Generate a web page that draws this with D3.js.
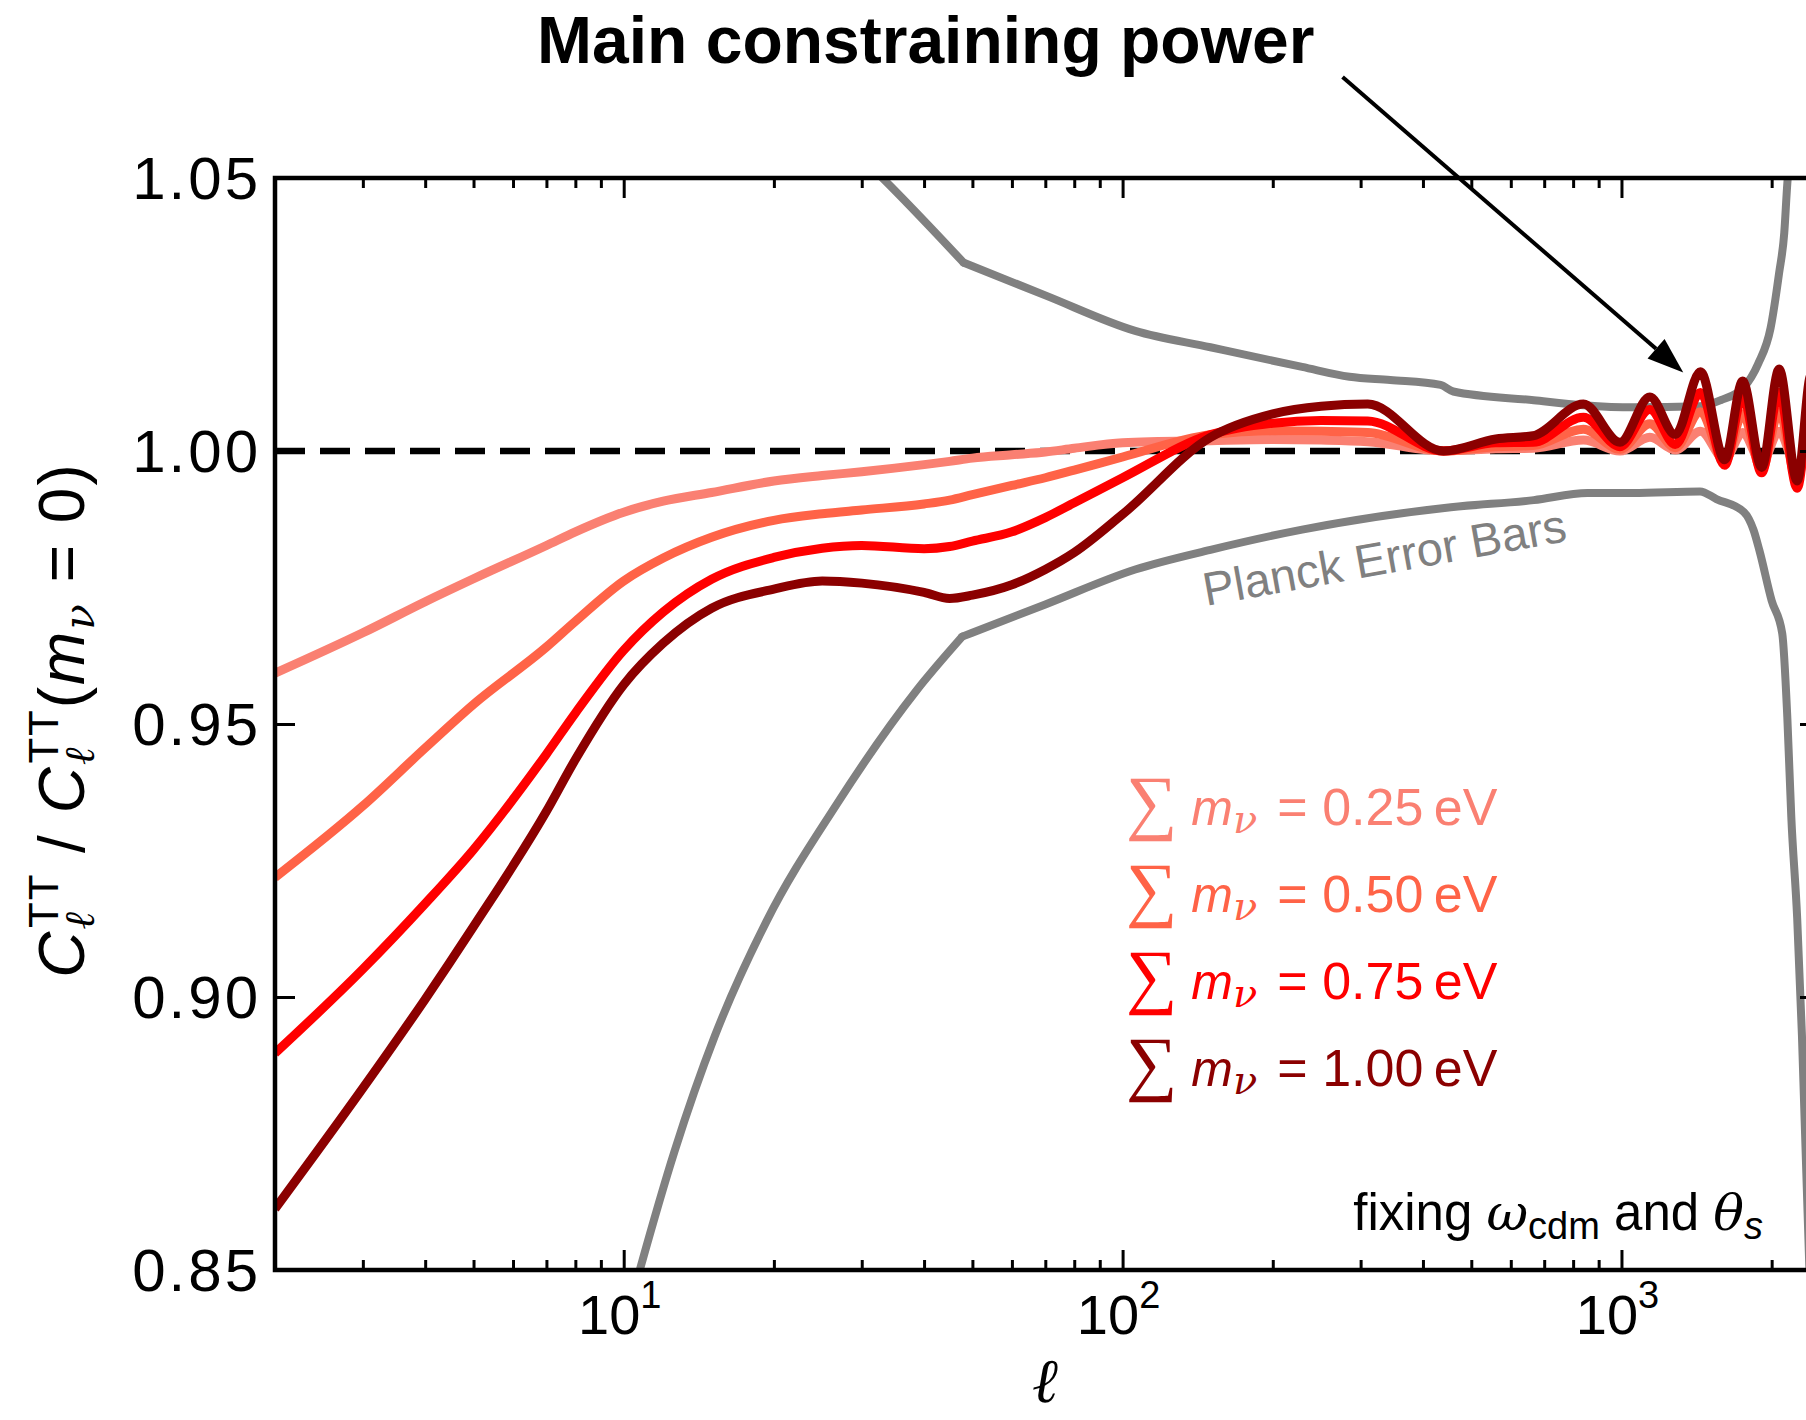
<!DOCTYPE html>
<html>
<head>
<meta charset="utf-8">
<script src="https://cdn.jsdelivr.net/npm/d3@7"></script>
<style>
  html, body { margin:0; padding:0; background:#fff; overflow:hidden; }
  svg { display:block; }
  text { font-family: "Liberation Sans", Arial, sans-serif; }
</style>
</head>
<body>
<div id="canvas" class="canvas"></div>
<script>
// --- data (ratio C_l / C_l(m_nu = 0))
var ell = [2, 3, 4, 5, 7, 8, 10, 12, 15, 20, 25, 30, 40, 45, 50, 60, 70, 80, 100, 150, 200, 250, 310,
           440, 560, 665, 839, 993, 1140, 1282, 1440, 1610, 1750, 1910, 2070, 2250, 2400, 2500];

var ratio025 = [0.9593, 0.9667, 0.9724, 0.9766, 0.9827, 0.9852, 0.9888, 0.9908, 0.9924, 0.9945, 0.9955, 0.9962, 0.9975, 0.9981, 0.9987, 0.9993, 0.9998, 1.0005, 1.0015, 1.0019, 1.0021, 1.0020, 1.0017,
                1.0000, 1.0004, 1.0005, 1.0020, 1.0000, 1.0025, 1.0002, 1.0036, 0.9985, 1.0034, 0.9978, 1.0036, 0.9968, 1.0035, 1.0010];
var ratio050 = [0.9219, 0.9350, 0.9456, 0.9536, 0.9641, 0.9688, 0.9762, 0.9804, 0.9842, 0.9873, 0.9885, 0.9892, 0.9903, 0.9910, 0.9920, 0.9937, 0.9951, 0.9965, 0.9989, 1.0030, 1.0037, 1.0036, 1.0034,
                1.0000, 1.0008, 1.0010, 1.0040, 1.0003, 1.0050, 1.0006, 1.0072, 0.9978, 1.0068, 0.9965, 1.0072, 0.9945, 1.0070, 1.0020];
var ratio075 = [0.8897, 0.9051, 0.9171, 0.9270, 0.9445, 0.9520, 0.9635, 0.9705, 0.9765, 0.9805, 0.9822, 0.9827, 0.9821, 0.9825, 0.9835, 0.9852, 0.9878, 0.9905, 0.9951, 1.0030, 1.0051, 1.0056, 1.0055,
                1.0000, 1.0015, 1.0016, 1.0062, 1.0008, 1.0076, 1.0012, 1.0107, 0.9974, 1.0100, 0.9960, 1.0108, 0.9932, 1.0100, 1.0030];
var ratio100 = [0.8612, 0.8833, 0.8996, 0.9129, 0.9340, 0.9435, 0.9572, 0.9648, 0.9712, 0.9747, 0.9762, 0.9758, 0.9741, 0.9730, 0.9736, 0.9755, 0.9783, 0.9814, 0.9884, 1.0025, 1.0068, 1.0082, 1.0086,
                1.0000, 1.0022, 1.0028, 1.0086, 1.0016, 1.0099, 1.0030, 1.0145, 0.9984, 1.0128, 0.9970, 1.0150, 0.9945, 1.0140, 1.0050];

// Planck error band (upper / lower)
var planckUpEll = [29, 33, 48, 70, 106, 150, 229, 285, 344, 434, 460, 667, 839, 1055, 1437, 1580, 1760, 1880, 1990, 2070, 2120, 2150, 2175];
var planckUpVal = [1.055, 1.050, 1.0345, 1.0285, 1.0220, 1.0190, 1.0154, 1.0136, 1.0130, 1.0121, 1.0109, 1.0093, 1.0084, 1.0080, 1.0082, 1.0093, 1.0117, 1.0160, 1.0225, 1.0326, 1.0400, 1.0490, 1.0540];
var planckLoEll = [10.4, 10.77, 12.64, 15.22, 19.34, 26.6, 38.6, 47.7, 70, 106, 150, 229, 455, 667, 855, 1055, 1437, 1550, 1760, 1840, 1890, 2000, 2100, 2150, 2190, 2250, 2300, 2400];
var planckLoVal = [0.845, 0.850, 0.8717, 0.8928, 0.9139, 0.9350, 0.9561, 0.9660, 0.9719, 0.9783, 0.9819, 0.9856, 0.9897, 0.9910, 0.9923, 0.9923, 0.9926, 0.9912, 0.9888, 0.9855, 0.9818, 0.9726, 0.9666, 0.9512, 0.9329, 0.9145, 0.8930, 0.8400];
var planckKink = 48;  // the band has a corner near l = 48

var masses = ['0.25', '0.50', '0.75', '1.00'];
var colors = ['#fa8072', '#ff6347', '#ff0000', '#8b0000'];

var xMajor = [10, 100, 1000];
var xMajorExp = ['1', '2', '3'];
var xMinor = [3, 4, 5, 6, 7, 8, 9, 20, 30, 40, 50, 60, 70, 80, 90, 200, 300, 400, 500, 600, 700, 800, 900, 2000];
var yTicks = [0.85, 0.90, 0.95, 1.00, 1.05];

// --- layout
var W = 1806, H = 1420;
var x = d3.scaleLog().domain([2, 2500]).range([275, 1820]);
var y = d3.scaleLinear().domain([0.85, 1.05]).range([1270, 178]);

var svg = d3.select('.canvas')
    .append('svg')
    .attr('width', W)
    .attr('height', H);

svg.append('defs').append('clipPath').attr('id', 'plotclip')
    .append('rect')
    .attr('x', x(2)).attr('y', y(1.05))
    .attr('width', x(2500) - x(2)).attr('height', y(0.85) - y(1.05));

var plot = svg.append('g').attr('clip-path', 'url(#plotclip)');

// --- reference line at 1
plot.append('line')
    .attr('x1', x(2)).attr('x2', x(2500))
    .attr('y1', y(1)).attr('y2', y(1))
    .style('stroke', '#000')
    .style('stroke-width', 6.5)
    .style('stroke-dasharray', '30,15');

var line = d3.line()
    .x(function(d) { return x(d[0]); })
    .y(function(d) { return y(d[1]); })
    .curve(d3.curveMonotoneX);

// --- planck error bars (two smooth pieces either side of the corner)
[[planckUpEll, planckUpVal], [planckLoEll, planckLoVal]].forEach(function(s) {
    var pts = d3.zip(s[0], s[1]);
    var pieces = [pts.filter(function(d) { return d[0] <= planckKink; }),
                  pts.filter(function(d) { return d[0] >= planckKink - 0.5; })];
    pieces.forEach(function(p) {
        plot.append('path')
            .datum(p)
            .attr('d', line)
            .style('fill', 'none')
            .style('stroke', '#808080')
            .style('stroke-width', 8)
            .style('stroke-linecap', 'round')
            .style('stroke-linejoin', 'round');
    });
});

// --- neutrino mass curves
[ratio025, ratio050, ratio075, ratio100].forEach(function(vals, i) {
    plot.append('path')
        .datum(d3.zip(ell, vals))
        .attr('d', line)
        .style('fill', 'none')
        .style('stroke', colors[i])
        .style('stroke-width', 9)
        .style('stroke-linejoin', 'round');
});

// --- axes (ticks inward on all sides)
function styleAxis(g) {
    g.select('.domain').remove();
    g.selectAll('.tick line').style('stroke', '#000').style('stroke-width', 3);
    g.selectAll('.tick text').remove();
}
svg.append('g').attr('transform', 'translate(0,' + y(0.85) + ')')
    .call(d3.axisBottom(x).tickValues(xMajor).tickSize(-20)).call(styleAxis);
svg.append('g').attr('transform', 'translate(0,' + y(0.85) + ')')
    .call(d3.axisBottom(x).tickValues(xMinor).tickSize(-10)).call(styleAxis);
svg.append('g').attr('transform', 'translate(0,' + y(1.05) + ')')
    .call(d3.axisTop(x).tickValues(xMajor).tickSize(-20)).call(styleAxis);
svg.append('g').attr('transform', 'translate(0,' + y(1.05) + ')')
    .call(d3.axisTop(x).tickValues(xMinor).tickSize(-10)).call(styleAxis);
svg.append('g').attr('transform', 'translate(' + x(2) + ',0)')
    .call(d3.axisLeft(y).tickValues(yTicks).tickSize(-20)).call(styleAxis);
svg.append('g').attr('transform', 'translate(' + x(2500) + ',0)')
    .call(d3.axisRight(y).tickValues(yTicks).tickSize(-20)).call(styleAxis);

// frame
svg.append('rect')
    .attr('x', x(2)).attr('y', y(1.05))
    .attr('width', x(2500) - x(2)).attr('height', y(0.85) - y(1.05))
    .style('fill', 'none')
    .style('stroke', '#000')
    .style('stroke-width', 4.5);

// tick labels
svg.selectAll('.ylab').data(yTicks).enter().append('text')
    .attr('class', 'ylab')
    .attr('x', x(2) - 14)
    .attr('y', function(d) { return y(d) + 21; })
    .attr('text-anchor', 'end')
    .style('font-size', '60px')
    .style('letter-spacing', '3px')
    .text(function(d) { return d3.format('.2f')(d); });

xMajor.forEach(function(v, i) {
    var t = svg.append('text')
        .attr('x', x(v) - 4)
        .attr('y', 1334)
        .attr('text-anchor', 'middle')
        .style('font-size', '56px');
    t.append('tspan').text('10');
    t.append('tspan').attr('dy', -26).style('font-size', '38px').text(xMajorExp[i]);
});

// --- rich text helper
function rich(sel, parts) {
    parts.forEach(function(p) {
        var t = sel.append('tspan').text(p.t);
        if (p.fs) t.style('font-size', p.fs + 'px');
        if (p.it) t.style('font-style', 'italic');
        if (p.ff) t.style('font-family', p.ff);
        if (p.dx) t.attr('dx', p.dx);
        if (p.dy) t.attr('dy', p.dy);
    });
}
var serif = '"DejaVu Serif", serif';

// axis labels
var ylab = svg.append('text')
    .attr('transform', 'translate(84,720) rotate(-90)')
    .attr('text-anchor', 'middle')
    .style('font-size', '64px')
    .style('letter-spacing', '2px');
rich(ylab, [
    {t: 'C', it: true},
    {t: '\u2113', fs: 42, ff: serif, it: true, dy: 10},
    {t: 'TT', fs: 42, dx: -18, dy: -36},
    {t: ' / ', dy: 26},
    {t: 'C', it: true},
    {t: '\u2113', fs: 42, ff: serif, it: true, dy: 10},
    {t: 'TT', fs: 42, dx: -18, dy: -36},
    {t: '(', dy: 26},
    {t: 'm', it: true},
    {t: '\u03bd', fs: 42, ff: serif, it: true, dy: 10},
    {t: ' = 0)', dy: -10}
]);

svg.append('text')
    .attr('x', 1045).attr('y', 1402)
    .attr('text-anchor', 'middle')
    .style('font-family', serif)
    .style('font-style', 'italic')
    .style('font-size', '62px')
    .text('\u2113');

// --- legend
masses.forEach(function(m, i) {
    var t = svg.append('text')
        .attr('x', 1126)
        .attr('y', 825 + i * 87)
        .style('fill', colors[i])
        .style('font-size', '52px');
    rich(t, [
        {t: '\u2211', fs: 72, ff: '"Liberation Serif", "DejaVu Serif", serif', dy: 1},
        {t: 'm', fs: 50, it: true, dx: 14, dy: -1},
        {t: '\u03bd', fs: 40, ff: serif, it: true, dy: 8},
        {t: '= ' + m + '\u2009eV', dx: 20, dy: -8}
    ]);
});

// fixing omega_cdm and theta_s
var fix = svg.append('text')
    .attr('x', 1763).attr('y', 1230)
    .attr('text-anchor', 'end')
    .style('font-size', '51px');
rich(fix, [
    {t: 'fixing '},
    {t: '\u03c9', ff: serif, it: true},
    {t: 'cdm', fs: 38, dy: 9},
    {t: ' and ', dy: -9},
    {t: '\u03b8', ff: serif, it: true},
    {t: 's', fs: 38, it: true, dy: 9}
]);

// planck label
svg.append('text')
    .attr('transform', 'translate(1206,606) rotate(-10.2)')
    .style('fill', '#808080')
    .style('font-size', '47px')
    .text('Planck Error Bars');

// --- title and arrow
svg.append('text')
    .attr('x', 537).attr('y', 63)
    .style('font-weight', 'bold')
    .style('font-size', '66px')
    .text('Main constraining power');

var a0 = [x(276), y(1.0685)], a1 = [x(1330), y(1.0144)];
var ang = Math.atan2(a1[1] - a0[1], a1[0] - a0[0]);
var hl = 36, hw = 13;
var base = [a1[0] - hl * Math.cos(ang), a1[1] - hl * Math.sin(ang)];
svg.append('line')
    .attr('x1', a0[0]).attr('y1', a0[1])
    .attr('x2', base[0]).attr('y2', base[1])
    .style('stroke', '#000')
    .style('stroke-width', 4);
svg.append('path')
    .attr('d', 'M' + a1[0] + ',' + a1[1] +
        'L' + (base[0] + hw * Math.sin(ang)) + ',' + (base[1] - hw * Math.cos(ang)) +
        'L' + (base[0] - hw * Math.sin(ang)) + ',' + (base[1] + hw * Math.cos(ang)) + 'Z')
    .style('fill', '#000');
</script>
</body>
</html>
